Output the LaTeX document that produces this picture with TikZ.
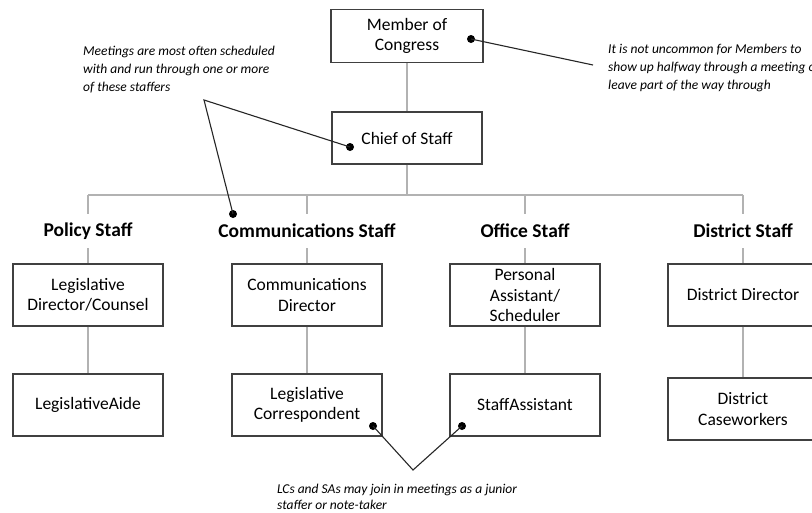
\documentclass[tikz,border=0pt]{standalone}
\usepackage{fontspec}
\setmainfont{Carlito}
\usetikzlibrary{positioning}

\tikzset{
  staffbox/.style={draw=black!75,line width=1.2pt,minimum width=150pt,
    minimum height=62pt,align=center,inner sep=2pt,
    font=\fontsize{17.5}{20.5}\selectfont},
  groupname/.style={font=\bfseries\fontsize{19.5}{22}\selectfont,
    minimum height=34pt,inner sep=0pt},
  treeline/.style={draw=black!30,line width=1.5pt},
  notetext/.style={font=\itshape\fontsize{13.5}{18}\selectfont,align=left,
    anchor=west,inner sep=0pt},
  pointer/.style={draw=black!85,line width=1.1pt},
  tackdot/.style={circle,fill=black,inner sep=0pt,minimum size=8pt},
}

\begin{document}
\begin{tikzpicture}[x=1pt,y=-1pt,on grid]
    \clip (0,0) rectangle (812,512);
    \fill[white] (0,0) rectangle (812,512);

    % top of the office
    \node[staffbox,minimum width=152pt,minimum height=53pt] (member) at (407,36) {Member of\\Congress};
    \node[staffbox,minimum height=52pt] (chief) [below=102pt of member] {Chief of Staff};

    % the four groups
    \node[groupname] (policy) at (88,231) {Policy Staff};
    \node[groupname] (comms) [right=219pt of policy] {Communications Staff};
    \node[groupname] (office) [right=218pt of comms] {Office Staff};
    \node[groupname] (district) [right=218pt of office] {District Staff};

    \node[staffbox] (legdir) [below=64pt of policy] {Legislative\\Director/Counsel};
    \node[staffbox] (commdir) [below=64pt of comms] {Communications\\Director};
    \node[staffbox] (personal) [below=64pt of office] {Personal\\Assistant/\\Scheduler};
    \node[staffbox] (distdir) [below=64pt of district] {District Director};

    \node[staffbox] (legaide) [below=110pt of legdir] {LegislativeAide};
    \node[staffbox] (legcorr) [below=110pt of commdir] {Legislative\\Correspondent};
    \node[staffbox] (staffasst) [below=110pt of personal] {StaffAssistant};
    \node[staffbox] (casework) [below=114pt of distdir] {District\\Caseworkers};

    % chart lines
    \coordinate (bar) at (407,195);
    \draw[treeline] (member) -- (chief);
    \draw[treeline] (chief) -- (bar);
    \draw[treeline] (policy.north |- bar) -- (district.north |- bar);
    \foreach \g in {policy,comms,office,district}
        \draw[treeline] (\g.north |- bar) -- (\g.north);
    \draw[treeline] (policy) -- (legdir) -- (legaide);
    \draw[treeline] (comms) -- (commdir) -- (legcorr);
    \draw[treeline] (office) -- (personal) -- (staffasst);
    \draw[treeline] (district) -- (distdir) -- (casework);

    % notes
    \node[notetext] (meetnote) at (83,70) {Meetings are most often scheduled\\with and run through one or more\\of these staffers};
    \node[notetext] (membernote) at (608,68) {It is not uncommon for Members to\\show up halfway through a meeting or\\leave part of the way through};
    \node[notetext,font=\itshape\fontsize{13.5}{15.5}\selectfont] (juniornote) at (277,497) {LCs and SAs may join in meetings as a junior\\staffer or note-taker};

    \node[tackdot] (memberdot) at (471,39) {};
    \node[tackdot] (chiefdot) at (350,147) {};
    \node[tackdot] (commsdot) at (233,214) {};
    \node[tackdot] (lcdot) at (373,426) {};
    \node[tackdot] (sadot) at (462,426) {};
    \coordinate (membertip) at (593,65);
    \coordinate (meetapex) at (204,100);
    \coordinate (juniorapex) at (413,470);

    \draw[pointer] (memberdot.center) -- (membertip);
    \draw[pointer] (chiefdot.center) -- (meetapex) -- (commsdot.center);
    \draw[pointer] (lcdot.center) -- (juniorapex) -- (sadot.center);

\end{tikzpicture}
\end{document}
